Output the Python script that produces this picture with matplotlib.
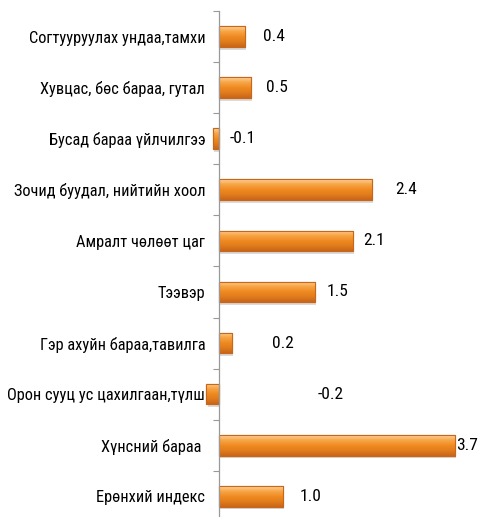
import numpy as np
import matplotlib
matplotlib.use("Agg")
import matplotlib.pyplot as plt
from matplotlib.colors import LinearSegmentedColormap

# категориуд (дээрээс доош)
categories = [
    "Согтууруулах ундаа,тамхи",
    "Хувцас, бөс бараа, гутал",
    "Бусад бараа үйлчилгээ",
    "Зочид буудал, нийтийн хоол",
    "Амралт чөлөөт цаг",
    "Тээвэр",
    "Гэр ахуйн бараа,тавилга",
    "Орон сууц ус цахилгаан,түлш",
    "Хүнсний бараа ",
    "Ерөнхий индекс",
]
values = [0.4, 0.5, -0.1, 2.4, 2.1, 1.5, 0.2, -0.2, 3.7, 1.0]
value_labels = ["0.4", "0.5", "-0.1", "2.4", "2.1", "1.5", "0.2", "-0.2", "3.7", "1.0"]
# Excel-ийн шошгоны байрлал (өгөгдлийн нэгжээр)
label_x = [0.69, 0.74, 0.16, 2.77, 2.26, 1.69, 0.83, 1.55, 3.71, 1.27]

plt.rcParams["font.family"] = ["Roboto Condensed", "IBM Plex Sans Condensed", "DejaVu Sans"]

fig = plt.figure(figsize=(4.78, 5.17), dpi=100)
ax = fig.add_axes([0.405, 0.0, 0.587, 0.978])

n = len(categories)
ypos = np.arange(n)[::-1]
h = 0.41

grad = LinearSegmentedColormap.from_list(
    "og", ["#fcd29a", "#f7a545", "#f08a22", "#e07c1c", "#c9661a"])
gimg = np.linspace(0, 1, 64).reshape(-1, 1)

for y, v in zip(ypos, values):
    x0, x1 = min(0, v), max(0, v)
    # сүүдэр
    ax.barh(y - 0.05, v, height=h, left=0.02, color="#b0b0b0", alpha=0.45,
            zorder=1, linewidth=0)
    bar = ax.barh(y, v, height=h, left=0, color="#f39a2e",
                  edgecolor="#c8661a", linewidth=0.8, zorder=2)[0]
    im = ax.imshow(gimg, cmap=grad, aspect="auto",
                   extent=(x0, x1, y - h / 2, y + h / 2), zorder=3,
                   origin="upper")
    im.set_clip_path(bar)
    ax.barh(y, v, height=h, left=0, color="none",
            edgecolor="#c8661a", linewidth=0.8, zorder=4)

for y, lx, t in zip(ypos, label_x, value_labels):
    ax.text(lx, y, t, va="center", ha="left", fontsize=12.5, color="#000000")

ax.set_xlim(-0.4, 4.0)
ax.set_ylim(-0.41, n - 0.5)
ax.set_yticks(ypos)
ax.set_yticklabels(categories)
ax.tick_params(axis="y", which="major", length=0, pad=10, labelsize=11.8)
ax.set_yticks(np.arange(n) + 0.5, minor=True)
ax.tick_params(axis="y", which="minor", length=4, color="#999999", width=0.8)
ax.set_xticks([])
for s in ["top", "right", "bottom"]:
    ax.spines[s].set_visible(False)
ax.spines["left"].set_position(("data", 0))
ax.spines["left"].set_color("#999999")
ax.spines["left"].set_linewidth(0.9)
ax.spines["left"].set_zorder(5)
ax.set_facecolor("none")

fig.savefig("out.png", dpi=100)
